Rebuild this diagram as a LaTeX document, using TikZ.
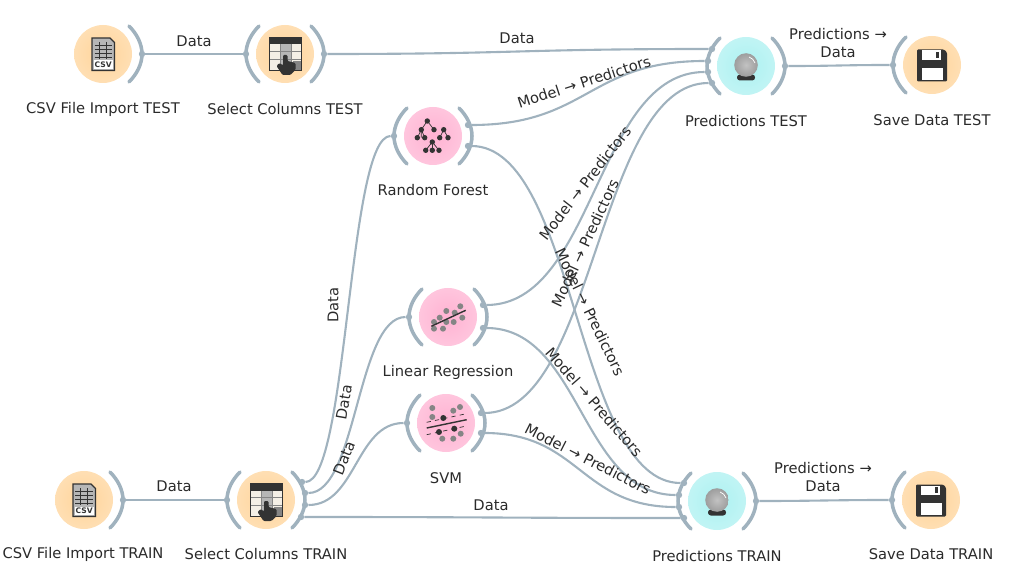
\documentclass[tikz,border=0pt]{standalone}
\usepackage{fontspec}
\setmainfont{DejaVu Sans}
\usetikzlibrary{positioning,calc}
\definecolor{plink}{HTML}{A0B2BE}
\definecolor{pink1}{HTML}{FFB2D2}
\definecolor{orange1}{HTML}{FFD49A}
\definecolor{cyan1}{HTML}{ACF1F1}
\definecolor{idark}{HTML}{333333}
\definecolor{igray}{HTML}{858585}
\definecolor{ilight}{HTML}{F4EFE6}
\definecolor{txt}{HTML}{2A2A2A}
\tikzset{
  wdg/.style    = {circle, minimum size=1.45cm, inner sep=0pt, shading=radial,
                   inner color=#1, outer color=#1!75!white},
  tag/.style    = {font=\fontsize{10.45}{13}\selectfont, text=txt, align=center, inner sep=0pt},
  link/.style   = {plink, line width=1.5pt},
  brk/.style    = {plink, line width=2.5pt, line cap=round},
  portdot/.style= {circle, fill=plink, inner sep=0pt, minimum size=1.6mm},
  rbrk/.pic = {\draw[brk] (.26,-.28) .. controls (.34,-.2) and (.39,-.1) .. (.39,0)
                          .. controls (.39,.1) and (.34,.2) .. (.26,.28);},
  lbrk/.pic = {\draw[brk] (-.26,-.28) .. controls (-.34,-.2) and (-.39,-.1) .. (-.39,0)
                          .. controls (-.39,.1) and (-.34,.2) .. (-.26,.28);},
  icocsv/.pic = {
    \draw[idark, fill=igray!60, line width=.9pt] (-.11,-.16) -- (.07,-.16) -- (.115,-.115) -- (.115,.165) -- (-.11,.165) -- cycle;
    \foreach \yy in {-.09,-.05,-.01,.03} {\draw[idark, line width=.7pt] (-.085,\yy) -- (.09,\yy);}
    \foreach \xx in {-.04,.03} {\draw[idark, line width=.7pt] (\xx,-.12) -- (\xx,.05);}
    \fill[white] (-.095,.065) rectangle (.10,.15);
    \node[font=\fontsize{5.4}{6}\selectfont\bfseries, text=idark, inner sep=0pt] (csvword) at (.002,.108) {CSV};
  },
  icosel/.pic = {
    \fill[ilight] (-.155,-.16) rectangle (.165,.165);
    \fill[igray!60] (-.05,-.095) rectangle (.06,.165);
    \fill[igray] (.08,.07) rectangle (.165,.165);
    \foreach \yy in {-.03,.05} {\draw[igray, line width=.5pt] (-.155,\yy) -- (.165,\yy);}
    \foreach \xx in {-.05,.06} {\draw[igray, line width=.5pt] (\xx,-.095) -- (\xx,.165);}
    \fill[idark] (-.155,-.16) rectangle (.165,-.095);
    \draw[idark, line width=1pt] (-.155,-.16) rectangle (.165,.165);
    \fill[idark, rounded corners=.8pt] (-.02,.01) -- (.025,.01) -- (.025,.07) -- (.105,.09) -- (.105,.16)
      -- (.055,.21) -- (-.025,.21) -- (-.085,.12) -- (-.055,.09) -- (-.02,.115) -- cycle;
  },
  icotree/.pic = {
    \draw[idark, line width=.5pt] (-.117,.017) -- (-.117,-.063) -- (-.057,-.15) -- (.01,-.063);
    \draw[idark, line width=.5pt] (-.157,.017) -- (-.117,-.063) -- (-.083,.017);
    \draw[idark, line width=.5pt] (.067,.017) -- (.107,-.063) -- (.15,.017);
    \draw[idark, line width=.5pt] (-.073,.143) -- (-.007,.06) -- (.06,.143);
    \draw[idark, line width=.5pt] (-.007,.06) -- (-.007,.143);
    \foreach \xx/\yy in {-.057/-.15,-.117/-.063,.01/-.063,-.157/.017,-.083/.017,.107/-.063,
                         .067/.017,.15/.017,-.007/.06,-.073/.143,-.007/.143,.06/.143}
      {\fill[idark] (\xx,\yy) circle (.027);}
  },
  icolr/.pic = {
    \foreach \xx/\yy in {-.14/.05,-.083/.007,-.017/-.06,.067/-.043,.123/-.107,
                         -.14/.117,-.05/.117,-.017/.05,.057/.05,.143/.007}
      {\fill[igray] (\xx,\yy) circle (.03);}
    \draw[idark, line width=1pt] (-.167,.093) -- (.177,-.067);
  },
  icosvm/.pic = {
    \foreach \xx/\yy in {-.137/-.15,-.137/-.06,.073/-.123,.14/-.16,-.037/.157,.073/.157,.147/.107}
      {\fill[igray] (\xx,\yy) circle (.03);}
    \foreach \xx/\yy in {-.027/-.05,.083/.057,-.07/.09}
      {\fill[idark] (\xx,\yy) circle (.03);}
    \draw[idark, line width=1pt] (-.193,.05) -- (.207,-.033);
    \draw[idark, line width=.5pt, dashed] (-.193,-.007) -- (.19,-.09);
    \draw[idark, line width=.5pt, dashed] (-.193,.117) -- (.19,.033);
  },
  icoball/.pic = {
    \fill[idark, rounded corners=2pt] (-.09,.085) rectangle (.09,.145);
    \shade[inner color=igray!50, outer color=igray!80] (0,-.01) circle (.118);
    \draw[white, line width=.5pt] (.03,-.09) .. controls (.06,-.08) and (.08,-.06) .. (.09,-.03);
  },
  icofloppy/.pic = {
    \fill[idark, rounded corners=.8pt] (-.15,-.155) -- (.12,-.155) -- (.15,-.125) -- (.15,.165) -- (-.15,.165) -- cycle;
    \fill[white] (-.10,-.145) rectangle (.085,-.05);
    \fill[idark] (.04,-.13) rectangle (.07,-.07);
    \fill[white] (-.105,.03) rectangle (.105,.15);
  },
}
\begin{document}
\begin{tikzpicture}[x=2.5cm,y=-2.5cm]
\useasboundingbox (0,0) rectangle (10.24,5.65);
% widgets
\foreach \wname/\wx/\wy/\wcol in {csvtest/1.03/.54/orange1,seltest/2.85/.54/orange1,
    csvtrain/.84/5.00/orange1,seltrain/2.66/5.00/orange1,
    rforest/4.33/1.36/pink1,linreg/4.48/3.17/pink1,svm/4.46/4.23/pink1,
    predtest/7.46/.66/cyan1,predtrain/7.17/5.01/cyan1,
    savetest/9.32/.65/orange1,savetrain/9.31/5.00/orange1}
  {\node[wdg=\wcol] (\wname) at (\wx,\wy) {};}
% brackets
\foreach \wname in {csvtest,seltest,csvtrain,seltrain,rforest,linreg,svm,predtest,predtrain}
  {\pic at (\wname) {rbrk};}
\foreach \wname in {seltest,seltrain,rforest,linreg,svm,predtest,predtrain,savetest,savetrain}
  {\pic at (\wname) {lbrk};}
% icons
\pic at (csvtest) {icocsv};
\pic at (csvtrain) {icocsv};
\pic at (seltest) {icosel};
\pic at (seltrain) {icosel};
\pic at (rforest) {icotree};
\pic at (linreg) {icolr};
\pic at (svm) {icosvm};
\pic at (predtest) {icoball};
\pic at (predtrain) {icoball};
\pic at (savetest) {icofloppy};
\pic at (savetrain) {icofloppy};
% ports
\foreach \pname/\px/\py in {csvtestout/1.42/.54,seltestin/2.46/.54,seltestout/3.24/.54,
    csvtrainout/1.23/5.00,seltrainin/2.27/5.00,
    seltraina/3.02/4.82,seltrainb/3.05/4.93,seltrainc/3.05/5.05,seltraind/3.01/5.17,
    rfin/3.94/1.36,rfouta/4.68/1.25,rfoutb/4.68/1.46,
    lrin/4.09/3.17,lrouta/4.83/3.05,lroutb/4.83/3.28,
    svmin/4.07/4.23,svmouta/4.81/4.13,svmoutb/4.81/4.33,
    ptesta/7.12/.49,ptestb/7.08/.61,ptestc/7.08/.72,ptestd/7.12/.83,ptestout/7.85/.66,
    ptraina/6.84/4.83,ptrainb/6.79/4.95,ptrainc/6.79/5.07,ptraind/6.84/5.18,ptrainout/7.56/5.01,
    savetestin/8.93/.65,savetrainin/8.92/5.00}
  {\node[portdot] (\pname) at (\px,\py) {};}
% connectors
\foreach \src/\dst/\dd in {csvtestout/seltestin/.5,seltestout/ptesta/1.93,ptestout/savetestin/.5,
    csvtrainout/seltrainin/.5,seltraind/ptraind/1.9,ptrainout/savetrainin/.6,
    seltraina/rfin/.46,seltrainb/lrin/.52,seltrainc/svmin/.51,
    rfouta/ptestb/1.2,rfoutb/ptraina/1.08,
    lrouta/ptestc/1.12,lroutb/ptrainb/.98,
    svmouta/ptestd/1.15,svmoutb/ptrainc/.99}
  {\draw[link] (\src) .. controls +(\dd,0) and +(-\dd,0) .. (\dst);}
% widget titles
\foreach \tname/\tx/\ty/\ttext in {csvtesttxt/1.03/1.09/CSV File Import TEST,seltesttxt/2.85/1.09/Select Columns TEST,
    csvtraintxt/.83/5.54/CSV File Import TRAIN,seltraintxt/2.66/5.54/Select Columns TRAIN,
    rftxt/4.33/1.90/Random Forest,lrtxt/4.48/3.72/Linear Regression,svmtxt/4.46/4.78/SVM,
    ptesttxt/7.46/1.21/Predictions TEST,ptraintxt/7.17/5.56/Predictions TRAIN,
    savetesttxt/9.32/1.20/Save Data TEST,savetraintxt/9.31/5.54/Save Data TRAIN}
  {\node[tag] (\tname) at (\tx,\ty) {\ttext};}
% link labels
\foreach \lname/\lx/\ly/\lrot/\ltext in {la/1.94/.41/0/Data,lb/5.17/.38/0/Data,lc/8.38/.43/0/Predictions →\\Data,
    ld/1.74/4.86/0/Data,le/4.91/5.05/0/Data,lf/8.23/4.77/0/Predictions →\\Data,
    lg/3.33/3.05/90/Data,lh/3.44/4.02/80/Data,li/3.44/4.58/68/Data,
    lj/5.84/.82/18/Model → Predictors,lk/5.85/1.83/52/Model → Predictors,ll/5.85/2.43/65/Model → Predictors,
    lm/5.90/3.12/-64/Model → Predictors,ln/5.94/4.02/-49/Model → Predictors,lo/5.88/4.59/-27/Model → Predictors}
  {\node[tag, rotate=\lrot] (\lname) at (\lx,\ly) {\ltext};}
\end{tikzpicture}
\end{document}
